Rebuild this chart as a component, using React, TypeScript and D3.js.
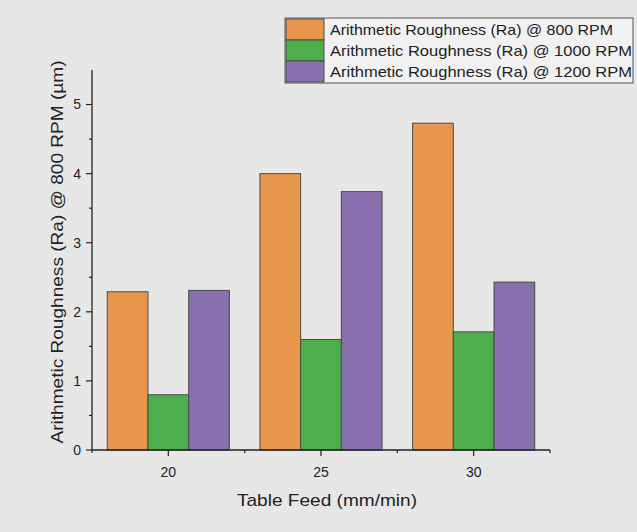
import React, { useEffect, useRef } from 'react'
import * as d3 from 'd3'

const feeds = ['20', '25', '30']
const seriesNames = [
  'Arithmetic Roughness (Ra) @ 800 RPM',
  'Arithmetic Roughness (Ra) @ 1000 RPM',
  'Arithmetic Roughness (Ra) @ 1200 RPM',
]
const ra800 = [2.29, 4.0, 4.73]
const ra1000 = [0.8, 1.6, 1.71]
const ra1200 = [2.31, 3.74, 2.43]
const colors = ['#e8964b', '#4cae4c', '#8a6fae']
const yTicks = [0, 1, 2, 3, 4, 5]

const App = () => {
  const ref = useRef(null)

  useEffect(() => {
    const width = 637
    const height = 532
    const font = 'Arial, "Liberation Sans", sans-serif'
    const svg = d3.select(ref.current).attr('width', width).attr('height', height)
    svg.selectAll('*').remove()

    svg.append('rect').attr('width', width).attr('height', height).attr('fill', '#e7e7e7')

    const left = 92
    const right = 550
    const top = 70
    const bottom = 450

    const y = d3.scaleLinear().domain([0, 5.5]).range([bottom, top])
    const xLin = d3.scaleLinear().domain([17.5, 32.5]).range([left, right])
    const x0 = d3.scaleBand().domain(feeds).range([left, right]).paddingInner(0.2).paddingOuter(0.1)
    const x1 = d3.scaleBand().domain(['0', '1', '2']).range([0, x0.bandwidth()])

    const series = [ra800, ra1000, ra1200]
    const g = svg.append('g')
    series.forEach((vals, si) => {
      g.selectAll(null)
        .data(vals)
        .enter()
        .append('rect')
        .attr('x', (d, i) => x0(feeds[i]) + x1(String(si)))
        .attr('y', (d) => y(d))
        .attr('width', x1.bandwidth())
        .attr('height', (d) => y(0) - y(d))
        .attr('fill', colors[si])
        .attr('stroke', '#4a4a4a')
        .attr('stroke-width', 1)
    })

    // y axis
    const yAxis = svg.append('g').attr('transform', `translate(${left},0)`)
    yAxis.append('line').attr('y1', top).attr('y2', bottom).attr('stroke', '#222').attr('stroke-width', 1.3)
    d3.range(0, 5.5, 0.5).forEach((v) => {
      const major = Number.isInteger(v)
      yAxis.append('line')
        .attr('x1', major ? -6 : -3).attr('x2', 0)
        .attr('y1', y(v)).attr('y2', y(v))
        .attr('stroke', '#222').attr('stroke-width', 1.2)
    })
    yAxis.selectAll('text.yt')
      .data(yTicks)
      .enter()
      .append('text')
      .attr('x', -11)
      .attr('y', (d) => y(d))
      .attr('dy', '0.35em')
      .attr('text-anchor', 'end')
      .attr('font-family', font)
      .attr('font-size', 14)
      .attr('fill', '#222')
      .text((d) => d)

    // x axis
    const xAxis = svg.append('g').attr('transform', `translate(0,${bottom})`)
    xAxis.append('line').attr('x1', left).attr('x2', right).attr('stroke', '#222').attr('stroke-width', 1.3)
    ;[17.5, 20, 22.5, 25, 27.5, 30, 32.5].forEach((v) => {
      const major = v % 5 === 0
      xAxis.append('line')
        .attr('x1', xLin(v)).attr('x2', xLin(v))
        .attr('y1', 0).attr('y2', major ? 6 : 3)
        .attr('stroke', '#222').attr('stroke-width', 1.2)
    })
    xAxis.selectAll('text.xt')
      .data(feeds)
      .enter()
      .append('text')
      .attr('x', (d) => xLin(+d))
      .attr('y', 27)
      .attr('text-anchor', 'middle')
      .attr('font-family', font)
      .attr('font-size', 14)
      .attr('fill', '#222')
      .text((d) => d)

    svg.append('text')
      .attr('x', 327)
      .attr('y', 506)
      .attr('text-anchor', 'middle')
      .attr('font-family', font)
      .attr('font-size', 17)
      .attr('textLength', 180)
      .attr('lengthAdjust', 'spacingAndGlyphs')
      .attr('fill', '#222')
      .text('Table Feed (mm/min)')

    svg.append('text')
      .attr('transform', `translate(63,252) rotate(-90)`)
      .attr('text-anchor', 'middle')
      .attr('font-family', font)
      .attr('font-size', 17)
      .attr('textLength', 383)
      .attr('lengthAdjust', 'spacingAndGlyphs')
      .attr('fill', '#222')
      .text('Arithmetic Roughness (Ra) @ 800 RPM (\u00b5m)')

    // legend
    const lg = svg.append('g').attr('transform', 'translate(285,18)')
    lg.append('rect').attr('width', 348).attr('height', 65).attr('fill', '#f1f1f1').attr('stroke', '#555').attr('stroke-width', 1)
    const legendLens = [283, 302, 302]
    seriesNames.forEach((name, i) => {
      lg.append('rect')
        .attr('x', 1).attr('y', 1 + i * 21)
        .attr('width', 38).attr('height', 21)
        .attr('fill', colors[i]).attr('stroke', '#4a4a4a')
      lg.append('text')
        .attr('x', 45).attr('y', 12 + i * 21)
        .attr('dy', '0.35em')
        .attr('font-family', font)
        .attr('font-size', 15)
        .attr('textLength', legendLens[i])
        .attr('lengthAdjust', 'spacingAndGlyphs')
        .attr('fill', '#222')
        .text(name)
    })
  }, [])

  return <svg ref={ref} style={{ position: 'absolute', left: 0, top: 0 }}></svg>
}

export default App
